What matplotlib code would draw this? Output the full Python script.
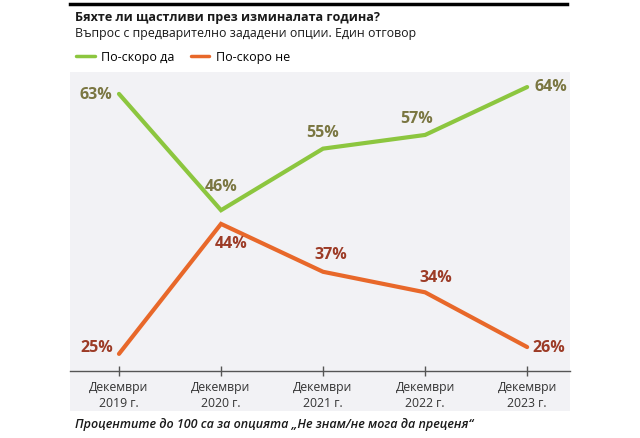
import matplotlib
matplotlib.use('Agg')
import matplotlib.pyplot as plt
from matplotlib.patches import Rectangle

plt.rcParams['font.family'] = ['Open Sans', 'DejaVu Sans']

# Data
periods = ["Декември\n2019 г.", "Декември\n2020 г.", "Декември\n2021 г.",
           "Декември\n2022 г.", "Декември\n2023 г."]
rather_yes = [63, 46, 55, 57, 64]
rather_no = [25, 44, 37, 34, 26]

# label offsets (pixels) for each point
yes_offsets = [(-23, 0), (0, 24), (0, 17), (-9, 17), (24, 1)]
no_offsets = [(-22, 7), (10, -19), (8, 18), (11, 15), (22, 0)]

GREEN = "#8cc63f"
ORANGE = "#e8682a"
GREEN_TXT = "#7a7641"
ORANGE_TXT = "#9c3b26"
PANEL = "#f2f2f5"

W, H = 640, 439
fig = plt.figure(figsize=(6.4, 4.39), dpi=100)

def fx(px):
    return px / W

def fy(py):
    return 1 - py / H

# grey panel behind the chart
fig.patches.append(Rectangle((fx(70), fy(412)), fx(570) - fx(70), fy(73) - fy(412),
                             transform=fig.transFigure, facecolor=PANEL,
                             edgecolor="none", zorder=-5))
# black rule at the top
fig.add_artist(plt.Line2D([fx(70), fx(567)], [fy(5), fy(5)], color="black",
                          lw=2.5, transform=fig.transFigure))

ax = fig.add_axes([fx(70), fy(372), fx(570) - fx(70), fy(73) - fy(372)])
ax.set_zorder(2)
ax.patch.set_alpha(0)

x = list(range(len(periods)))
ax.plot(x, rather_yes, color=GREEN, lw=3, solid_capstyle="round",
        solid_joinstyle="miter", label="По-скоро да", zorder=3)
ax.plot(x, rather_no, color=ORANGE, lw=3, solid_capstyle="round",
        solid_joinstyle="miter", label="По-скоро не", zorder=3)

for xi, v, (dx, dy) in zip(x, rather_yes, yes_offsets):
    ax.annotate(f"{v}%", (xi, v), xytext=(dx * 0.72, dy * 0.72),
                textcoords="offset points", ha="center", va="center",
                fontsize=11.5, fontweight="bold", color=GREEN_TXT)
for xi, v, (dx, dy) in zip(x, rather_no, no_offsets):
    ax.annotate(f"{v}%", (xi, v), xytext=(dx * 0.72, dy * 0.72),
                textcoords="offset points", ha="center", va="center",
                fontsize=11.5, fontweight="bold", color=ORANGE_TXT)

ax.set_xlim(-0.48, 4.42)
ax.set_ylim(22.5, 66.2)
ax.set_xticks(x)
ax.set_xticklabels(periods, fontsize=8.8, color="#333333", linespacing=1.25)
ax.set_yticks([])
for s in ["top", "right", "left"]:
    ax.spines[s].set_visible(False)
ax.spines["bottom"].set_color("#555555")
ax.spines["bottom"].set_linewidth(1)
ax.tick_params(axis="x", direction="inout", length=7, width=1, color="#555555", pad=3)

fig.text(fx(75), fy(18), "Бяхте ли щастливи през изминалата година?",
         fontsize=9.1, fontweight="bold", color="#1a1a1a", va="center")
fig.text(fx(75), fy(34), "Въпрос с предварително зададени опции. Един отговор",
         fontsize=8.9, color="#1a1a1a", va="center")
fig.legend(loc="center left", bbox_to_anchor=(fx(71), fy(58)), ncol=2,
           frameon=False, fontsize=9, handlelength=1.5, handletextpad=0.5,
           columnspacing=1.3, borderaxespad=0)
for line in fig.legends[0].get_lines():
    line.set_linewidth(2.5)

fig.text(fx(75), fy(425), "Процентите до 100 са за опцията „Не знам/не мога да преценя“",
         fontsize=9.0, fontweight="semibold", fontstyle="italic", color="#1a1a1a",
         va="center")

fig.savefig("out.png", dpi=100)
